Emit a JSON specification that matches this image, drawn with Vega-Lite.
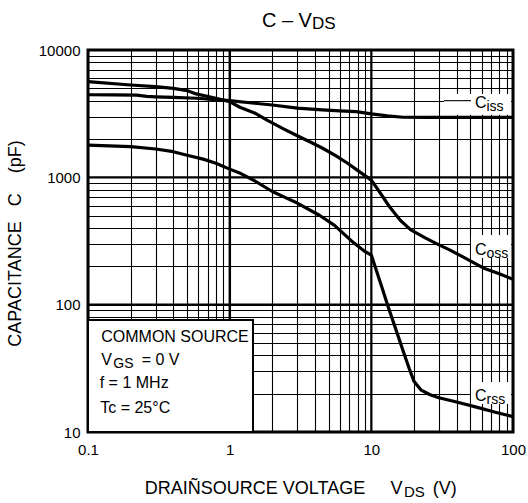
{
  "$schema": "https://vega.github.io/schema/vega-lite/v6.json",
  "width": 425,
  "height": 382,
  "autosize": {"type": "none"},
  "padding": {"left": 88, "top": 50, "right": 15, "bottom": 71},
  "background": "white",
  "config": {
    "view": {"stroke": "black", "strokeWidth": 3},
    "font": "Liberation Sans",
    "text": {"font": "Liberation Sans", "color": "black"}
  },
  "resolve": {"axis": {"x": "independent", "y": "independent"}},
  "data": {"values": [{}]},
  "datasets": {
    "curves": [
      {"s": "Ciss", "v": 0.1, "c": 4450}, {"s": "Ciss", "v": 0.15, "c": 4440}, {"s": "Ciss", "v": 0.22, "c": 4420},
      {"s": "Ciss", "v": 0.26, "c": 4330}, {"s": "Ciss", "v": 0.3, "c": 4290}, {"s": "Ciss", "v": 0.4, "c": 4240},
      {"s": "Ciss", "v": 0.58, "c": 4180}, {"s": "Ciss", "v": 0.8, "c": 4080}, {"s": "Ciss", "v": 1, "c": 4000},
      {"s": "Ciss", "v": 1.5, "c": 3820}, {"s": "Ciss", "v": 2, "c": 3700}, {"s": "Ciss", "v": 3, "c": 3500},
      {"s": "Ciss", "v": 4.5, "c": 3390}, {"s": "Ciss", "v": 6, "c": 3330}, {"s": "Ciss", "v": 7.8, "c": 3280},
      {"s": "Ciss", "v": 10, "c": 3150}, {"s": "Ciss", "v": 13, "c": 3040}, {"s": "Ciss", "v": 16.7, "c": 2965},
      {"s": "Ciss", "v": 25, "c": 2960}, {"s": "Ciss", "v": 50, "c": 2960}, {"s": "Ciss", "v": 100, "c": 2960},
      {"s": "Coss", "v": 0.1, "c": 5650}, {"s": "Coss", "v": 0.2, "c": 5310}, {"s": "Coss", "v": 0.3, "c": 5150},
      {"s": "Coss", "v": 0.4, "c": 5000}, {"s": "Coss", "v": 0.5, "c": 4800}, {"s": "Coss", "v": 0.58, "c": 4520},
      {"s": "Coss", "v": 0.8, "c": 4180}, {"s": "Coss", "v": 1, "c": 3930}, {"s": "Coss", "v": 1.18, "c": 3550},
      {"s": "Coss", "v": 1.5, "c": 3200}, {"s": "Coss", "v": 1.85, "c": 2800}, {"s": "Coss", "v": 2.4, "c": 2400},
      {"s": "Coss", "v": 3, "c": 2120}, {"s": "Coss", "v": 3.8, "c": 1870}, {"s": "Coss", "v": 4.5, "c": 1700},
      {"s": "Coss", "v": 5.6, "c": 1480}, {"s": "Coss", "v": 6.8, "c": 1290}, {"s": "Coss", "v": 7.9, "c": 1145},
      {"s": "Coss", "v": 10, "c": 950}, {"s": "Coss", "v": 11.5, "c": 760}, {"s": "Coss", "v": 13.4, "c": 590},
      {"s": "Coss", "v": 16, "c": 460}, {"s": "Coss", "v": 19, "c": 387}, {"s": "Coss", "v": 24, "c": 335},
      {"s": "Coss", "v": 30, "c": 295}, {"s": "Coss", "v": 36, "c": 268}, {"s": "Coss", "v": 45, "c": 235},
      {"s": "Coss", "v": 63, "c": 192}, {"s": "Coss", "v": 80, "c": 175}, {"s": "Coss", "v": 100, "c": 158},
      {"s": "Crss", "v": 0.1, "c": 1790}, {"s": "Crss", "v": 0.2, "c": 1740}, {"s": "Crss", "v": 0.3, "c": 1670},
      {"s": "Crss", "v": 0.4, "c": 1590}, {"s": "Crss", "v": 0.5, "c": 1490}, {"s": "Crss", "v": 0.65, "c": 1390},
      {"s": "Crss", "v": 0.8, "c": 1290}, {"s": "Crss", "v": 1, "c": 1160}, {"s": "Crss", "v": 1.2, "c": 1070},
      {"s": "Crss", "v": 1.5, "c": 940}, {"s": "Crss", "v": 2, "c": 774}, {"s": "Crss", "v": 2.5, "c": 690},
      {"s": "Crss", "v": 3, "c": 628}, {"s": "Crss", "v": 4.3, "c": 504}, {"s": "Crss", "v": 5.5, "c": 420},
      {"s": "Crss", "v": 7.4, "c": 310}, {"s": "Crss", "v": 9, "c": 262}, {"s": "Crss", "v": 10, "c": 245},
      {"s": "Crss", "v": 11, "c": 177}, {"s": "Crss", "v": 12, "c": 132}, {"s": "Crss", "v": 13, "c": 100},
      {"s": "Crss", "v": 14.5, "c": 70}, {"s": "Crss", "v": 16.8, "c": 43}, {"s": "Crss", "v": 18.5, "c": 31.5},
      {"s": "Crss", "v": 20, "c": 25}, {"s": "Crss", "v": 22.5, "c": 21.3}, {"s": "Crss", "v": 26, "c": 19.6},
      {"s": "Crss", "v": 30, "c": 18.6}, {"s": "Crss", "v": 40, "c": 17.2}, {"s": "Crss", "v": 56, "c": 15.6},
      {"s": "Crss", "v": 75, "c": 14.3}, {"s": "Crss", "v": 100, "c": 13.2}
    ]
  },
  "layer": [
    {
      "data": {"name": "curves"},
      "mark": {"type": "line", "color": "black", "strokeWidth": 3.2, "strokeJoin": "round", "strokeCap": "butt"},
      "encoding": {
        "x": {
          "field": "v", "type": "quantitative",
          "scale": {"type": "log", "domain": [0.1, 100]},
          "axis": {
            "orient": "bottom",
            "title": null,
            "values": [0.1, 0.2, 0.3, 0.4, 0.5, 0.6, 0.7, 0.8, 0.9, 1, 2, 3, 4, 5, 6, 7, 8, 9, 10, 20, 30, 40, 50, 60, 70, 80, 90, 100],
            "format": "~g",
            "labelExpr": "datum.value==0.1||datum.value==1||datum.value==10||datum.value==100 ? datum.label : ''",
            "grid": true, "gridColor": "black", "gridOpacity": 1, "gridWidth": 1.1,
            "ticks": false, "domain": false,
            "labelFlush": false, "labelOverlap": false,
            "labelFontSize": 15, "labelColor": "black", "labelPadding": 10
          }
        },
        "y": {
          "field": "c", "type": "quantitative",
          "scale": {"type": "log", "domain": [10, 10000]},
          "axis": {
            "orient": "left",
            "title": "CAPACITANCE\u00a0\u00a0\u00a0C\u00a0\u00a0\u00a0\u00a0(pF)",
            "titleFontSize": 18, "titleFontWeight": "normal", "titleColor": "black",
            "titleX": -64, "titleY": 193,
            "values": [10, 20, 30, 40, 50, 60, 70, 80, 90, 100, 200, 300, 400, 500, 600, 700, 800, 900, 1000, 2000, 3000, 4000, 5000, 6000, 7000, 8000, 9000, 10000],
            "format": "d",
            "labelExpr": "datum.value==10||datum.value==100||datum.value==1000||datum.value==10000 ? datum.label : ''",
            "grid": true, "gridColor": "black", "gridOpacity": 1, "gridWidth": 1.1,
            "ticks": false, "domain": false,
            "labelOverlap": false,
            "labelFontSize": 15, "labelColor": "black", "labelPadding": 8
          }
        },
        "detail": {"field": "s"}
      }
    },
    {
      "data": {"values": [{"d": 1}, {"d": 10}]},
      "mark": {"type": "rule", "color": "black", "strokeWidth": 2.2},
      "encoding": {
        "x": {"field": "d", "type": "quantitative", "scale": {"type": "log", "domain": [0.1, 100]}, "axis": null}
      }
    },
    {
      "data": {"values": [{"d": 100}, {"d": 1000}]},
      "mark": {"type": "rule", "color": "black", "strokeWidth": 2.2},
      "encoding": {
        "y": {"field": "d", "type": "quantitative", "scale": {"type": "log", "domain": [10, 10000]}, "axis": null}
      }
    },
    {
      "mark": {"type": "rect", "fill": "white", "stroke": "black", "strokeWidth": 2},
      "encoding": {
        "x": {"datum": 0.1, "type": "quantitative", "scale": {"type": "log", "domain": [0.1, 100]}, "axis": null},
        "x2": {"datum": 1.461},
        "y": {"datum": 10, "type": "quantitative", "scale": {"type": "log", "domain": [10, 10000]}, "axis": null},
        "y2": {"datum": 75.8}
      }
    },
    {
      "mark": {"type": "rect", "fill": "white"},
      "encoding": {
        "x": {"datum": 32.6, "type": "quantitative", "scale": {"type": "log", "domain": [0.1, 100]}, "axis": null},
        "x2": {"datum": 96.8},
        "y": {"datum": 4512, "type": "quantitative", "scale": {"type": "log", "domain": [10, 10000]}, "axis": null},
        "y2": {"datum": 3100}
      }
    },
    {
      "mark": {"type": "rule", "color": "black", "strokeWidth": 1.1},
      "encoding": {
        "x": {"datum": 32.6, "type": "quantitative", "scale": {"type": "log", "domain": [0.1, 100]}, "axis": null},
        "x2": {"datum": 50.5},
        "y": {"datum": 4000, "type": "quantitative", "scale": {"type": "log", "domain": [10, 10000]}, "axis": null}
      }
    },
    {
      "mark": {"type": "rect", "fill": "white"},
      "encoding": {
        "x": {"datum": 50.5, "type": "quantitative", "scale": {"type": "log", "domain": [0.1, 100]}, "axis": null},
        "x2": {"datum": 96.8},
        "y": {"datum": 352, "type": "quantitative", "scale": {"type": "log", "domain": [10, 10000]}, "axis": null},
        "y2": {"datum": 232.5}
      }
    },
    {
      "mark": {"type": "rect", "fill": "white"},
      "encoding": {
        "x": {"datum": 50.5, "type": "quantitative", "scale": {"type": "log", "domain": [0.1, 100]}, "axis": null},
        "x2": {"datum": 96.8},
        "y": {"datum": 24.7, "type": "quantitative", "scale": {"type": "log", "domain": [10, 10000]}, "axis": null},
        "y2": {"datum": 16.6}
      }
    },
    {
      "mark": {"type": "text", "text": "C", "align": "left", "baseline": "alphabetic", "fontSize": 16},
      "encoding": {
        "x": {"datum": 53.9, "type": "quantitative", "scale": {"type": "log", "domain": [0.1, 100]}, "axis": null},
        "y": {"datum": 3472, "type": "quantitative", "scale": {"type": "log", "domain": [10, 10000]}, "axis": null}
      }
    },
    {
      "mark": {"type": "text", "text": "iss", "align": "left", "baseline": "alphabetic", "fontSize": 14},
      "encoding": {
        "x": {"datum": 65, "type": "quantitative", "scale": {"type": "log", "domain": [0.1, 100]}, "axis": null},
        "y": {"datum": 3289, "type": "quantitative", "scale": {"type": "log", "domain": [10, 10000]}, "axis": null}
      }
    },
    {
      "mark": {"type": "text", "text": "C", "align": "left", "baseline": "alphabetic", "fontSize": 16},
      "encoding": {
        "x": {"datum": 53.9, "type": "quantitative", "scale": {"type": "log", "domain": [0.1, 100]}, "axis": null},
        "y": {"datum": 245.5, "type": "quantitative", "scale": {"type": "log", "domain": [10, 10000]}, "axis": null}
      }
    },
    {
      "mark": {"type": "text", "text": "oss", "align": "left", "baseline": "alphabetic", "fontSize": 14},
      "encoding": {
        "x": {"datum": 65, "type": "quantitative", "scale": {"type": "log", "domain": [0.1, 100]}, "axis": null},
        "y": {"datum": 232.5, "type": "quantitative", "scale": {"type": "log", "domain": [10, 10000]}, "axis": null}
      }
    },
    {
      "mark": {"type": "text", "text": "C", "align": "left", "baseline": "alphabetic", "fontSize": 16},
      "encoding": {
        "x": {"datum": 53.9, "type": "quantitative", "scale": {"type": "log", "domain": [0.1, 100]}, "axis": null},
        "y": {"datum": 17.5, "type": "quantitative", "scale": {"type": "log", "domain": [10, 10000]}, "axis": null}
      }
    },
    {
      "mark": {"type": "text", "text": "rss", "align": "left", "baseline": "alphabetic", "fontSize": 14},
      "encoding": {
        "x": {"datum": 65, "type": "quantitative", "scale": {"type": "log", "domain": [0.1, 100]}, "axis": null},
        "y": {"datum": 16.6, "type": "quantitative", "scale": {"type": "log", "domain": [10, 10000]}, "axis": null}
      }
    },
    {
      "mark": {"type": "text", "text": "COMMON SOURCE", "align": "left", "baseline": "alphabetic", "fontSize": 16},
      "encoding": {
        "x": {"datum": 0.124, "type": "quantitative", "scale": {"type": "log", "domain": [0.1, 100]}, "axis": null},
        "y": {"datum": 51.2, "type": "quantitative", "scale": {"type": "log", "domain": [10, 10000]}, "axis": null}
      }
    },
    {
      "mark": {"type": "text", "text": "V", "align": "left", "baseline": "alphabetic", "fontSize": 16},
      "encoding": {
        "x": {"datum": 0.124, "type": "quantitative", "scale": {"type": "log", "domain": [0.1, 100]}, "axis": null},
        "y": {"datum": 33.6, "type": "quantitative", "scale": {"type": "log", "domain": [10, 10000]}, "axis": null}
      }
    },
    {
      "mark": {"type": "text", "text": "GS", "align": "left", "baseline": "alphabetic", "fontSize": 14},
      "encoding": {
        "x": {"datum": 0.151, "type": "quantitative", "scale": {"type": "log", "domain": [0.1, 100]}, "axis": null},
        "y": {"datum": 31.6, "type": "quantitative", "scale": {"type": "log", "domain": [10, 10000]}, "axis": null}
      }
    },
    {
      "mark": {"type": "text", "text": "= 0 V", "align": "left", "baseline": "alphabetic", "fontSize": 16},
      "encoding": {
        "x": {"datum": 0.2393, "type": "quantitative", "scale": {"type": "log", "domain": [0.1, 100]}, "axis": null},
        "y": {"datum": 33.6, "type": "quantitative", "scale": {"type": "log", "domain": [10, 10000]}, "axis": null}
      }
    },
    {
      "mark": {"type": "text", "text": "f = 1 MHz", "align": "left", "baseline": "alphabetic", "fontSize": 16},
      "encoding": {
        "x": {"datum": 0.121, "type": "quantitative", "scale": {"type": "log", "domain": [0.1, 100]}, "axis": null},
        "y": {"datum": 22.0, "type": "quantitative", "scale": {"type": "log", "domain": [10, 10000]}, "axis": null}
      }
    },
    {
      "mark": {"type": "text", "text": "Tc = 25°C", "align": "left", "baseline": "alphabetic", "fontSize": 16},
      "encoding": {
        "x": {"datum": 0.122, "type": "quantitative", "scale": {"type": "log", "domain": [0.1, 100]}, "axis": null},
        "y": {"datum": 14.2, "type": "quantitative", "scale": {"type": "log", "domain": [10, 10000]}, "axis": null}
      }
    },
    {
      "mark": {"type": "text", "text": "C – V", "align": "right", "baseline": "alphabetic", "fontSize": 20},
      "encoding": {
        "x": {"datum": 3.81, "type": "quantitative", "scale": {"type": "log", "domain": [0.1, 100]}, "axis": null},
        "y": {"datum": 15240, "type": "quantitative", "scale": {"type": "log", "domain": [10, 10000]}, "axis": null}
      }
    },
    {
      "mark": {"type": "text", "text": "DS", "align": "left", "baseline": "alphabetic", "fontSize": 17},
      "encoding": {
        "x": {"datum": 3.81, "type": "quantitative", "scale": {"type": "log", "domain": [0.1, 100]}, "axis": null},
        "y": {"datum": 14540, "type": "quantitative", "scale": {"type": "log", "domain": [10, 10000]}, "axis": null}
      }
    },
    {
      "mark": {"type": "text", "text": "DRAIÑSOURCE VOLTAGE", "align": "left", "baseline": "alphabetic", "fontSize": 18},
      "encoding": {
        "x": {"datum": 0.2517, "type": "quantitative", "scale": {"type": "log", "domain": [0.1, 100]}, "axis": null},
        "y": {"datum": 3.26, "type": "quantitative", "scale": {"type": "log", "domain": [10, 10000]}, "axis": null}
      }
    },
    {
      "mark": {"type": "text", "text": "V", "align": "left", "baseline": "alphabetic", "fontSize": 18},
      "encoding": {
        "x": {"datum": 13.68, "type": "quantitative", "scale": {"type": "log", "domain": [0.1, 100]}, "axis": null},
        "y": {"datum": 3.26, "type": "quantitative", "scale": {"type": "log", "domain": [10, 10000]}, "axis": null}
      }
    },
    {
      "mark": {"type": "text", "text": "DS", "align": "left", "baseline": "alphabetic", "fontSize": 15},
      "encoding": {
        "x": {"datum": 17.0, "type": "quantitative", "scale": {"type": "log", "domain": [0.1, 100]}, "axis": null},
        "y": {"datum": 3.08, "type": "quantitative", "scale": {"type": "log", "domain": [10, 10000]}, "axis": null}
      }
    },
    {
      "mark": {"type": "text", "text": "(V)", "align": "left", "baseline": "alphabetic", "fontSize": 18},
      "encoding": {
        "x": {"datum": 27.1, "type": "quantitative", "scale": {"type": "log", "domain": [0.1, 100]}, "axis": null},
        "y": {"datum": 3.26, "type": "quantitative", "scale": {"type": "log", "domain": [10, 10000]}, "axis": null}
      }
    }
  ]
}
